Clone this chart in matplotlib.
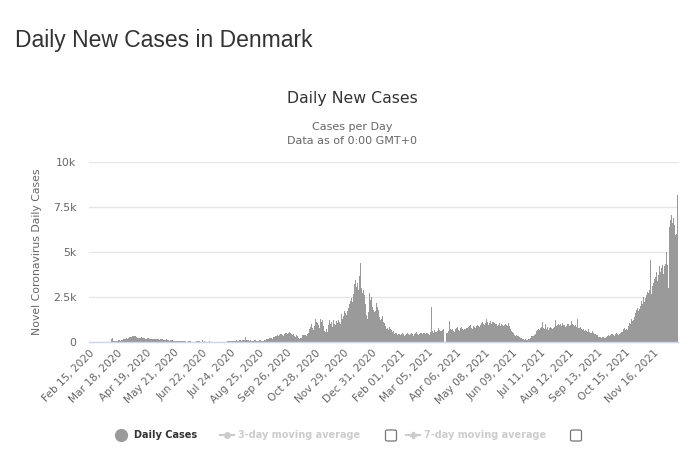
import matplotlib
matplotlib.use("Agg")
import matplotlib.pyplot as plt
import pandas as pd
import numpy as np
from matplotlib.patches import FancyBboxPatch
from matplotlib.lines import Line2D

# ---- data (daily new cases) ----
start_date = "2020-02-15"
feb_2020 = [0, 0, 0, 0, 0, 0, 0, 0, 0, 0, 0, 0, 1, 0, 1]
mar_2020 = [1, 1, 3, 4, 5, 10, 3, 4, 8, 9, 180, 220, 60, 30, 40, 30, 55, 75, 90, 110,
            80, 90, 100, 120, 150, 160, 180, 200, 190, 230, 260]
apr_2020 = [260, 300, 280, 320, 340, 310, 350, 290, 270, 250, 230, 210, 220, 260, 240,
            230, 210, 190, 170, 180, 200, 210, 190, 170, 160, 170, 190, 180, 160, 150]
may_2020 = [150, 170, 140, 130, 160, 180, 150, 140, 120, 110, 130, 140, 120, 100, 90, 80,
            110, 100, 90, 80, 70, 60, 70, 80, 60, 50, 40, 60, 50, 45, 40]
jun_2020 = [30, 40, 35, 25, 20, 30, 40, 35, 30, 25, 20, 15, 20, 25, 30, 20, 35, 40, 30,
            25, 20, 110, 15, 30, 25, 20, 15, 20, 25, 30]
jul_2020 = [15, 10, 12, 8, 10, 20, 15, 10, 8, 6, 12, 18, 20, 15, 10, 12, 14, 16, 20, 25,
            30, 60, 45, 35, 70, 40, 50, 80, 60, 55, 90]
aug_2020 = [70, 60, 90, 110, 80, 75, 120, 100, 90, 280, 110, 95, 130, 100, 80, 90, 60, 70,
            80, 110, 90, 75, 60, 55, 70, 95, 100, 80, 60, 70, 110]
sep_2020 = [110, 130, 150, 170, 190, 200, 230, 250, 210, 180, 280, 300, 320, 350, 380,
            330, 290, 400, 420, 450, 380, 350, 470, 500, 520, 460, 420, 480, 540, 510]
oct_2020 = [420, 380, 450, 400, 350, 300, 380, 330, 220, 180, 200, 160, 230, 370, 400, 390,
            410, 350, 420, 480, 520, 700, 820, 1000, 780, 650, 900, 1300, 850, 1100, 1050]
nov_2020 = [950, 800, 1300, 1100, 1200, 900, 1000, 600, 550, 700, 580, 950, 1200, 1000,
            900, 1100, 850, 1250, 1000, 950, 1150, 1050, 1200, 1600, 1100, 1000, 1550,
            1300, 1450, 1700]
dec_2020 = [1600, 1800, 1500, 1750, 1900, 2100, 2300, 2450, 2200, 2650, 3000, 3200, 3450,
            3050, 3300, 2900, 3650, 4400, 3200, 3000, 2750, 2900, 2600, 2100, 1500, 1300,
            1650, 2400, 2700, 2350, 2500]
jan_2021 = [1950, 1800, 1650, 1700, 1900, 2150, 1950, 1800, 1400, 1200, 1300, 1450, 1100,
            1000, 1050, 900, 750, 800, 650, 850, 700, 600, 650, 550, 600, 450, 480, 500,
            400, 380, 420]
feb_2021 = [450, 380, 420, 500, 470, 350, 400, 480, 430, 520, 460, 390, 440, 510, 470, 420,
            360, 450, 500, 530, 460, 410, 470, 520, 540, 480, 430, 500]
mar_2021 = [500, 450, 520, 480, 560, 430, 410, 550, 1960, 600, 520, 640, 580, 700, 550, 610,
            760, 680, 590, 620, 650, 760, 720, 0, 0, 480, 520, 620, 1170, 700, 980]
apr_2021 = [650, 720, 600, 580, 700, 760, 820, 690, 640, 600, 780, 850, 720, 680, 750, 700,
            640, 800, 760, 820, 880, 920, 780, 700, 850, 900, 830, 760, 880, 940]
may_2021 = [900, 850, 1000, 950, 1050, 1100, 980, 920, 1050, 1300, 1100, 1000, 950, 1080,
            1150, 1000, 1120, 1100, 1050, 1260, 1020, 980, 900, 950, 1030, 880, 1000, 950,
            900, 870, 960]
jun_2021 = [1000, 950, 880, 1030, 900, 800, 700, 620, 540, 480, 380, 350, 390, 320, 300,
            330, 280, 250, 200, 160, 140, 120, 180, 150, 110, 130, 170, 190, 230, 310]
jul_2021 = [350, 400, 320, 380, 450, 600, 650, 720, 680, 760, 800, 850, 1130, 780, 700,
            1000, 750, 820, 700, 680, 760, 830, 800, 720, 780, 850, 900, 1220, 880, 950, 1000]
aug_2021 = [950, 1000, 880, 900, 1040, 960, 920, 820, 900, 980, 1020, 870, 850, 950, 1150,
            1000, 940, 880, 920, 850, 900, 1300, 780, 760, 820, 700, 650, 720, 600, 560, 640]
sep_2021 = [620, 560, 700, 580, 520, 480, 550, 600, 500, 430, 460, 410, 380, 300, 280, 320,
            260, 240, 300, 270, 250, 230, 280, 310, 350, 400, 330, 380, 450, 420]
oct_2021 = [400, 350, 320, 460, 480, 420, 380, 450, 500, 560, 620, 580, 700, 760, 650, 720,
            680, 900, 1050, 1200, 1000, 1300, 1150, 1250, 1400, 1600, 1800, 1750, 1900,
            1700, 1850]
nov_2021 = [2000, 2300, 2100, 2500, 2400, 2200, 2450, 2600, 2800, 2700, 2900, 4550, 2650,
            2500, 3100, 3300, 3500, 3600, 3900, 3400, 3700, 4000, 4200, 3900, 4100, 4300,
            3800, 4200, 4350, 5000]
dec_2021 = [4500, 4300, 3000, 6400, 6800, 7050, 6600, 6900, 7000, 6500, 5950, 6000, 8170]

daily_cases = (feb_2020 + mar_2020 + apr_2020 + may_2020 + jun_2020 + jul_2020 + aug_2020
               + sep_2020 + oct_2020 + nov_2020 + dec_2020 + jan_2021 + feb_2021 + mar_2021
               + apr_2021 + may_2021 + jun_2021 + jul_2021 + aug_2021 + sep_2021 + oct_2021
               + nov_2021 + dec_2021)
dates = pd.date_range(start_date, periods=len(daily_cases), freq="D")
y_ticks = [0, 2500, 5000, 7500, 10000]
y_tick_labels = ["0", "2.5k", "5k", "7.5k", "10k"]
tick_step = 32

# ---- figure ----
W, H = 700, 450
fig = plt.figure(figsize=(W / 100, H / 100), dpi=100)
fig.patch.set_facecolor("white")

def px(x, y):
    return x / W, 1 - y / H

left, right, top, bottom = 89, 678, 162, 342
ax = fig.add_axes([left / W, 1 - bottom / H, (right - left) / W, (bottom - top) / H])
x = np.arange(len(daily_cases))
ax.bar(x, daily_cases, width=1.0, color="#9a9a9a", linewidth=0, zorder=2)
ax.set_xlim(-0.5, len(daily_cases) - 0.5)
ax.set_ylim(0, 10000)

ax.set_yticks(y_ticks)
ax.set_yticklabels(y_tick_labels)
ax.yaxis.grid(True, color="#e6e6e6", linewidth=0.9, zorder=0)
ax.set_axisbelow(True)
for s in ["top", "right", "left"]:
    ax.spines[s].set_visible(False)
ax.spines["bottom"].set_color("#ccd6eb")
ax.spines["bottom"].set_linewidth(1.0)
ax.tick_params(axis="y", length=0, pad=9, labelsize=7.8, labelcolor="#666666")
ax.tick_params(axis="x", length=0, pad=4, labelsize=7.6, labelcolor="#666666")
for lab in ax.get_yticklabels():
    lab.set_fontfamily("DejaVu Sans")

tick_idx = list(range(0, len(daily_cases), tick_step))
ax.set_xticks(tick_idx)
ax.set_xticklabels([dates[i].strftime("%b %d, %Y") for i in tick_idx],
                   rotation=45, ha="right", rotation_mode="anchor", family="DejaVu Sans")

ax.set_ylabel("Novel Coronavirus Daily Cases", fontsize=7.8, color="#666666",
              family="DejaVu Sans")
ax.yaxis.set_label_coords(-(89 - 42) / (right - left), 0.5)

# titles
fig.text(*px(15, 41), "Daily New Cases in Denmark", fontsize=16.5, color="#333333",
         family="Liberation Sans", ha="left", va="center")
fig.text(*px(352, 99), "Daily New Cases", fontsize=11.3, color="#333333",
         family="DejaVu Sans", ha="center", va="center")
fig.text(*px(352, 127), "Cases per Day", fontsize=8, color="#666666",
         family="DejaVu Sans", ha="center", va="center")
fig.text(*px(352, 141), "Data as of 0:00 GMT+0", fontsize=8, color="#666666",
         family="DejaVu Sans", ha="center", va="center")

# legend (drawn manually to mimic the source)
ly = 435
fig.add_artist(Line2D([121 / W], [1 - ly / H], marker="o", markersize=8.5,
                      color="#9a9a9a", linestyle="none", transform=fig.transFigure))
fig.text(*px(134, ly), "Daily Cases", fontsize=7, fontweight="bold", color="#333333",
         family="DejaVu Sans", ha="left", va="center")
fig.add_artist(Line2D([220 / W, 234 / W], [1 - ly / H] * 2, color="#cccccc", lw=1.5,
                      transform=fig.transFigure))
fig.add_artist(Line2D([227 / W], [1 - ly / H], marker="o", markersize=4, color="#cccccc",
                      linestyle="none", transform=fig.transFigure))
fig.text(*px(238, ly), "3-day moving average", fontsize=7, fontweight="bold",
         color="#cccccc", family="DejaVu Sans", ha="left", va="center")
fig.add_artist(Line2D([406 / W, 420 / W], [1 - ly / H] * 2, color="#cccccc", lw=1.5,
                      transform=fig.transFigure))
fig.add_artist(Line2D([413 / W], [1 - ly / H], marker="P", markersize=5, color="#cccccc",
                      linestyle="none", transform=fig.transFigure))
fig.text(*px(424, ly), "7-day moving average", fontsize=7, fontweight="bold",
         color="#cccccc", family="DejaVu Sans", ha="left", va="center")
for cx in (391, 576):
    bx, by = px(cx - 5.5, ly + 6)
    fig.add_artist(FancyBboxPatch((bx, by), 11 / W, 11 / H,
                                  boxstyle="round,pad=0,rounding_size=0.003",
                                  facecolor="white", edgecolor="#777777", lw=0.9,
                                  transform=fig.transFigure))

fig.savefig("out.png", dpi=100)
